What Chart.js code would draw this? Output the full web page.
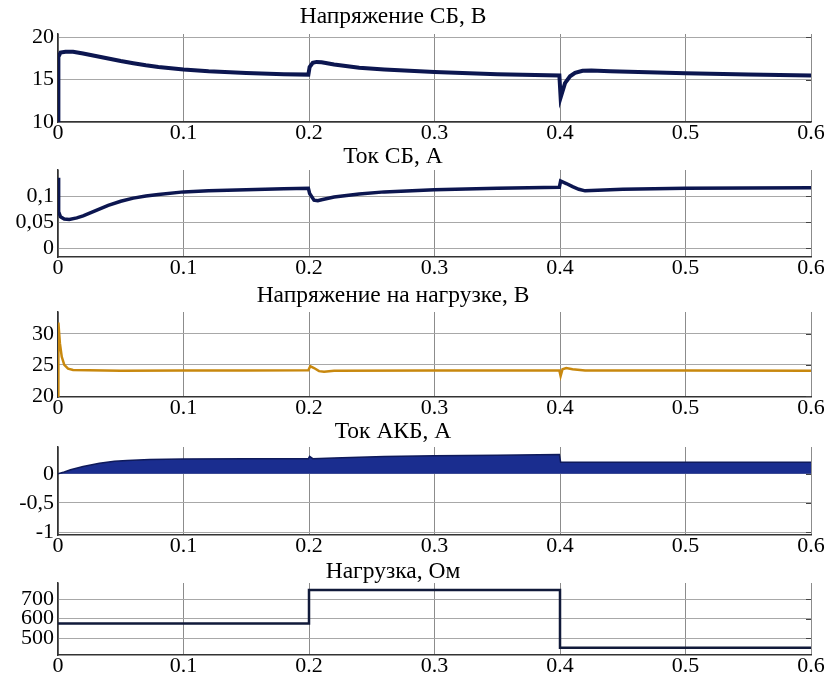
<!DOCTYPE html>
<html>
<head>
<meta charset="utf-8">
<script src="https://cdn.jsdelivr.net/npm/chart.js@4/dist/chart.umd.min.js"></script>
<style>
  body { margin: 0; background: #fff; width: 827px; height: 679px; position: relative; overflow: hidden; }
  canvas { position: absolute; left: 0; }
</style>
</head>
<body>
<canvas id="c1"></canvas>
<canvas id="c2"></canvas>
<canvas id="c3"></canvas>
<canvas id="c4"></canvas>
<canvas id="c5"></canvas>
<script>
// x axis, shared by all panels
const xTicks = [0, 0.1, 0.2, 0.3, 0.4, 0.5, 0.6];
const xTickLabels = ['0', '0.1', '0.2', '0.3', '0.4', '0.5', '0.6'];

// Напряжение СБ, В
const t1 = [0, 0.0003, 0.002, 0.006, 0.012, 0.02, 0.03, 0.04, 0.05, 0.06, 0.07, 0.08, 0.1, 0.12, 0.15, 0.18, 0.1995,
            0.2005, 0.203, 0.206, 0.21, 0.22, 0.24, 0.26, 0.3, 0.35, 0.3995,
            0.4005, 0.404, 0.408, 0.412, 0.418, 0.425, 0.44, 0.5, 0.55, 0.6];
const v1 = [10, 17.7, 18.2, 18.3, 18.3, 18.1, 17.8, 17.5, 17.2, 16.95, 16.7, 16.5, 16.2, 16.0, 15.8, 15.65, 15.6,
            16.5, 17.0, 17.1, 17.05, 16.8, 16.4, 16.2, 15.9, 15.65, 15.5,
            12.9, 14.6, 15.4, 15.8, 16.05, 16.1, 16.0, 15.75, 15.6, 15.5];
const y1Ticks = [10, 15, 20];
const y1Labels = ['10', '15', '20'];

// Ток СБ, А
const t2 = [0, 0.0005, 0.002, 0.005, 0.009, 0.015, 0.02, 0.03, 0.04, 0.05, 0.06, 0.07, 0.08, 0.1, 0.12, 0.15, 0.18, 0.1995,
            0.2005, 0.204, 0.207, 0.21, 0.22, 0.24, 0.26, 0.3, 0.35, 0.3995,
            0.4005, 0.405, 0.41, 0.415, 0.42, 0.43, 0.45, 0.5, 0.6];
const v2 = [0.135, 0.07, 0.06, 0.056, 0.055, 0.058, 0.062, 0.072, 0.082, 0.09, 0.096, 0.1, 0.103, 0.108, 0.11, 0.112, 0.114, 0.115,
            0.105, 0.092, 0.091, 0.093, 0.098, 0.104, 0.108, 0.112, 0.115, 0.117,
            0.129, 0.124, 0.118, 0.113, 0.11, 0.111, 0.113, 0.115, 0.116];
const y2Ticks = [0, 0.05, 0.1];
const y2Labels = ['0', '0,05', '0,1'];

// Напряжение на нагрузке, В
const t3 = [0, 0.0003, 0.0015, 0.003, 0.005, 0.008, 0.012, 0.05, 0.1, 0.15, 0.1995,
            0.201, 0.204, 0.208, 0.212, 0.22, 0.3, 0.3995,
            0.4005, 0.402, 0.405, 0.41, 0.42, 0.5, 0.6];
const v3 = [20, 31.8, 28.5, 26.3, 25.0, 24.4, 24.2, 24.05, 24.1, 24.1, 24.15,
            24.8, 24.5, 24.0, 23.9, 24.05, 24.1, 24.1,
            23.2, 24.3, 24.5, 24.3, 24.1, 24.1, 24.05];
const y3Ticks = [20, 25, 30];
const y3Labels = ['20', '25', '30'];

// Ток АКБ, А (upper envelope of the ripple band)
const t4 = [0, 0.005, 0.01, 0.02, 0.033, 0.045, 0.055, 0.073, 0.1, 0.15, 0.1995,
            0.2005, 0.203, 0.22, 0.26, 0.3, 0.35, 0.3995,
            0.4005, 0.45, 0.5, 0.6];
const v4 = [0, 0.03, 0.07, 0.125, 0.18, 0.215, 0.23, 0.245, 0.255, 0.26, 0.26,
            0.3, 0.26, 0.27, 0.295, 0.31, 0.32, 0.33,
            0.2, 0.2, 0.2, 0.2];
const y4Ticks = [-1, -0.5, 0];
const y4Labels = ['-1', '-0,5', '0'];

// Нагрузка, Ом
const t5 = [0, 0.2, 0.4, 0.6];
const v5 = [575, 746, 450, 450];
const y5Ticks = [500, 600, 700];
const y5Labels = ['500', '600', '700'];

const FONT = '"Liberation Serif", "Times New Roman", serif';

const panelDecor = {
    id: 'panelDecor',
    afterDraw(chart, args, opts) {
        let ctx = chart.ctx;
        let a = chart.chartArea;
        ctx.save();
        ctx.font = '23.5px ' + FONT;
        ctx.fillStyle = '#000';
        ctx.textAlign = 'center';
        ctx.textBaseline = 'middle';
        ctx.fillText(opts.title, 393, a.top - opts.titleGap);
        // small tick marks on the right border
        let ys = chart.scales.y;
        ctx.strokeStyle = '#444';
        ctx.lineWidth = 1;
        ys.ticks.forEach(function (t) {
            let p = Math.round(ys.getPixelForValue(t.value)) + 0.5;
            ctx.beginPath();
            ctx.moveTo(a.right - 5, p);
            ctx.lineTo(a.right, p);
            ctx.stroke();
        });
        ctx.restore();
    }
};

const TOP_SPACE = 36;
const X_AXIS_H = 26;

function makePanel(id, p) {
    let canvas = document.getElementById(id);
    let h = TOP_SPACE + (p.plotBottom - p.plotTop) + X_AXIS_H;
    canvas.style.top = (p.plotTop - TOP_SPACE) + 'px';
    canvas.style.width = '827px';
    canvas.style.height = h + 'px';
    canvas.width = 827;
    canvas.height = h;
    let points = p.t.map(function (x, i) { return { x: x, y: p.v[i] }; });
    return new Chart(canvas.getContext('2d'), {
        type: 'line',
        data: {
            datasets: [{
                data: points,
                borderColor: p.color,
                backgroundColor: p.fillColor || p.color,
                borderWidth: p.width,
                pointRadius: 0,
                tension: 0,
                stepped: p.stepped || false,
                fill: p.fill || false
            }]
        },
        options: {
            responsive: false,
            animation: false,
            layout: { padding: { left: 0, right: 16, top: TOP_SPACE, bottom: 0 } },
            plugins: {
                legend: { display: false },
                tooltip: { enabled: false },
                panelDecor: { title: p.title, titleGap: p.titleGap }
            },
            scales: {
                x: {
                    type: 'linear',
                    min: 0,
                    max: 0.6,
                    afterBuildTicks: function (scale) {
                        scale.ticks = xTicks.map(function (v) { return { value: v }; });
                    },
                    afterFit: function (scale) { scale.height = X_AXIS_H; },
                    ticks: {
                        color: '#000',
                        font: { family: FONT, size: 22 },
                        padding: -2,
                        maxRotation: 0,
                        callback: function (val, idx) { return xTickLabels[idx]; }
                    },
                    grid: { color: '#8c8c8c', lineWidth: 1, drawTicks: false },
                    border: { color: '#333', width: 1.5 }
                },
                y: {
                    type: 'linear',
                    min: p.min,
                    max: p.max,
                    afterBuildTicks: function (scale) {
                        scale.ticks = p.yTicks.map(function (v) { return { value: v }; });
                    },
                    afterFit: function (scale) { scale.width = 58; },
                    ticks: {
                        color: '#000',
                        font: { family: FONT, size: 22 },
                        padding: 4,
                        callback: function (val, idx) { return p.yLabels[idx]; }
                    },
                    grid: { color: '#a8a8a8', lineWidth: 1, drawTicks: false },
                    border: { color: '#333', width: 1.5 }
                }
            }
        },
        plugins: [panelDecor]
    });
}

makePanel('c1', { t: t1, v: v1, yTicks: y1Ticks, yLabels: y1Labels, min: 10, max: 20.4,
    plotTop: 34, plotBottom: 122, title: 'Напряжение СБ, В', titleGap: 17, color: '#0c1650', width: 4 });
makePanel('c2', { t: t2, v: v2, yTicks: y2Ticks, yLabels: y2Labels, min: -0.017, max: 0.15,
    plotTop: 170, plotBottom: 257, title: 'Ток СБ, А', titleGap: 13, color: '#0c1650', width: 3.5 });
makePanel('c3', { t: t3, v: v3, yTicks: y3Ticks, yLabels: y3Labels, min: 19.85, max: 33.5,
    plotTop: 312, plotBottom: 397, title: 'Напряжение на нагрузке, В', titleGap: 16, color: '#c8880e', width: 2.5 });
makePanel('c4', { t: t4, v: v4, yTicks: y4Ticks, yLabels: y4Labels, min: -1.05, max: 0.46,
    plotTop: 447, plotBottom: 535, title: 'Ток АКБ, А', titleGap: 15, color: '#0f1a5a', width: 1.5,
    fillColor: '#1a2d8f', fill: { value: 0 } });
makePanel('c5', { t: t5, v: v5, yTicks: y5Ticks, yLabels: y5Labels, min: 413, max: 782,
    plotTop: 583, plotBottom: 655, title: 'Нагрузка, Ом', titleGap: 11, color: '#111a3a', width: 2.5,
    stepped: 'before' });
</script>
</body>
</html>
